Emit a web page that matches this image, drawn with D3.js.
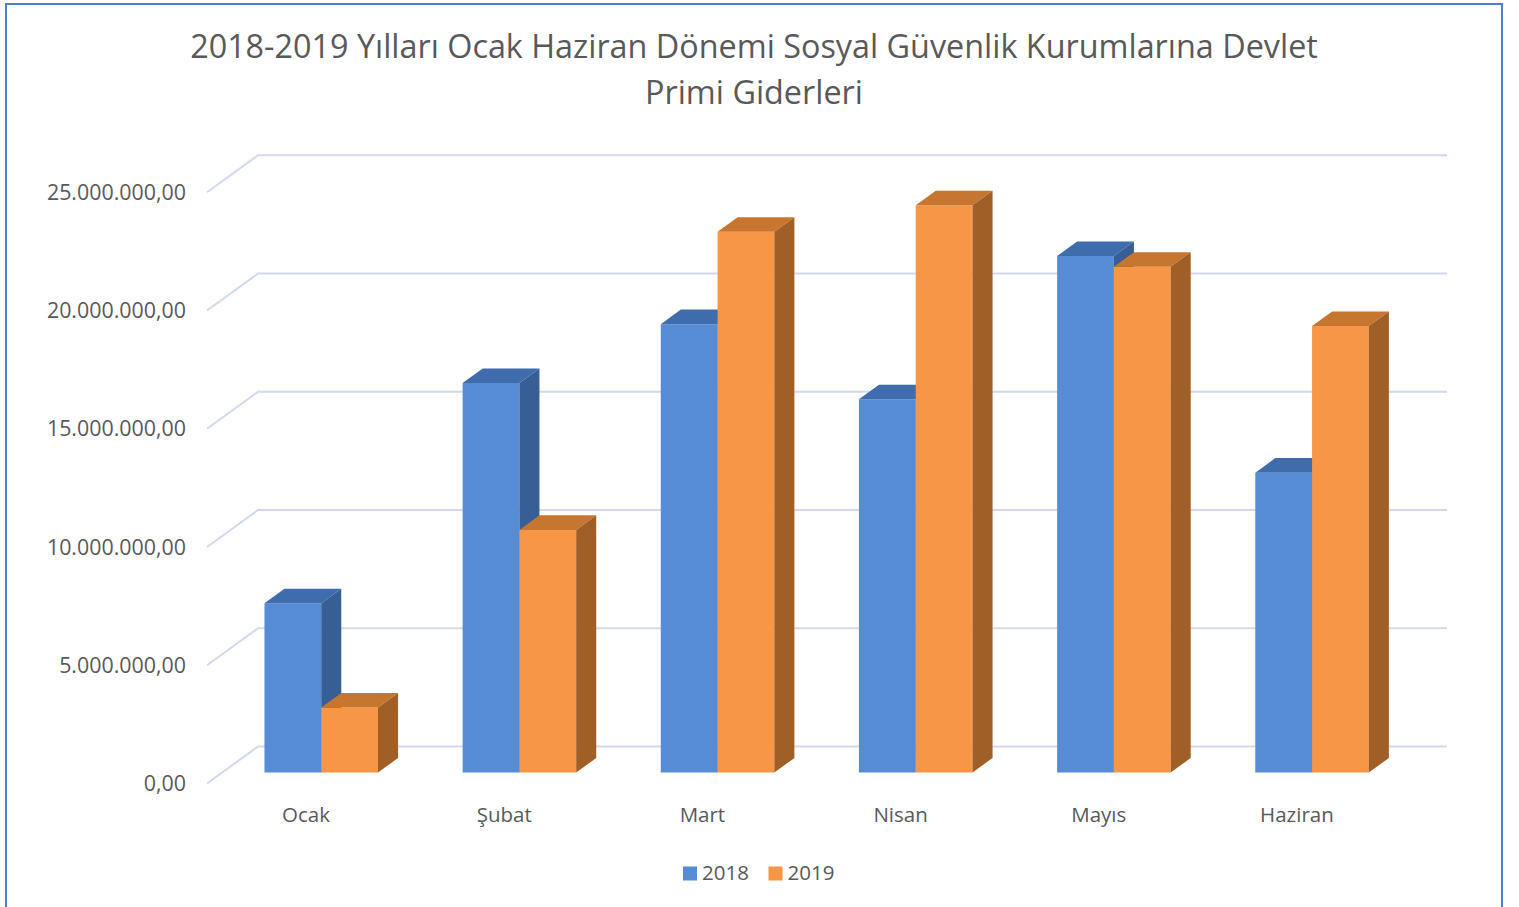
<!DOCTYPE html>
<html>
<head>
<meta charset="utf-8">
<script src="https://cdn.jsdelivr.net/npm/d3@7"></script>
<style>
body { margin: 0; background: #fff; }
text { font-family: "Open Sans", sans-serif; fill: #595959; }
</style>
</head>
<body>
<script>
// chart data
const months = ["Ocak", "Şubat", "Mart", "Nisan", "Mayıs", "Haziran"];
const seriesNames = ["2018", "2019"];
const values2018 = [7160000, 16470000, 18960000, 15780000, 21840000, 12680000];
const values2019 = [2750000, 10260000, 22870000, 23990000, 21390000, 18880000];
const yTicks = [0, 5000000, 10000000, 15000000, 20000000, 25000000];
const titleLines = ["2018-2019 Yılları Ocak Haziran Dönemi Sosyal Güvenlik Kurumlarına Devlet", "Primi Giderleri"];

var width = 1519, height = 907;

// 3d look: depth vector of the whole plot, bars sit between F1 and F2
var DX = 51, DY = -37;
var F1 = 0.297, F2 = 0.69;

var colors = {
    "2018": {front: "#568CD5", top: "#3E6CAC", side: "#375E95"},
    "2019": {front: "#F79646", top: "#C6762F", side: "#A05F27"}
};

var trLocale = d3.formatLocale({decimal: ",", thousands: ".", grouping: [3], currency: ["", " ₺"]});
var fmt = trLocale.format(",.2f");

var svg = d3.select("body").append("svg")
    .attr("width", width)
    .attr("height", height);

svg.append("rect").attr("width", width).attr("height", height).attr("fill", "#fff");
// frame
svg.append("rect")
    .attr("x", 6).attr("y", 4)
    .attr("width", 1496).attr("height", 920)
    .attr("fill", "none")
    .attr("stroke", "#4D80C8")
    .attr("stroke-width", 2);

// title
var title = svg.append("g");
titleLines.forEach(function(t, i) {
    title.append("text")
        .attr("x", 754)
        .attr("y", 58 + i * 46)
        .attr("text-anchor", "middle")
        .attr("font-size", 32)
        .text(t);
});
// fit the first line to the width seen in the picture
var w0 = title.select("text").node().getComputedTextLength();
var titleSize = 32 * 1128 / w0;
title.selectAll("text").attr("font-size", titleSize);

// scales (front plane)
var x = d3.scaleBand()
    .domain(months)
    .range([207, 1396])
    .paddingInner(0.427)
    .paddingOuter(0.2135);

var xs = d3.scaleBand()
    .domain(seriesNames)
    .range([0, x.bandwidth()]);

var y = d3.scaleLinear()
    .domain([0, 25000000])
    .range([783.5, 192.3]);

function proj(px, py, d) {
    return [px + DX * d, py + DY * d];
}

// gridlines: left wall diagonal + back wall line
var grid = svg.append("g");
grid.selectAll("path.grid")
    .data(yTicks)
    .enter()
    .append("path")
    .attr("class", "grid")
    .attr("fill", "none")
    .attr("stroke", "#D2D9EF")
    .attr("stroke-width", 2)
    .attr("d", function(t) {
        var a = proj(x.range()[0], y(t), 0);
        var b = proj(x.range()[0], y(t), 1);
        var c = proj(x.range()[1], y(t), 1);
        return d3.line()([a, b, c]);
    });

// y labels
svg.selectAll("text.ylab")
    .data(yTicks)
    .enter()
    .append("text")
    .attr("class", "ylab")
    .attr("x", 186)
    .attr("y", function(t) { return y(t); })
    .attr("dy", "0.35em")
    .attr("text-anchor", "end")
    .attr("font-size", 21.4)
    .text(function(t) { return fmt(t); });

// bars
var rows = [];
months.forEach(function(m, i) {
    rows.push({month: m, series: "2018", value: values2018[i]});
    rows.push({month: m, series: "2019", value: values2019[i]});
});

function poly(pts) { return d3.line()(pts) + "Z"; }

var bars = svg.append("g").selectAll("g.bar")
    .data(rows)
    .enter()
    .append("g")
    .attr("class", "bar");

bars.each(function(d) {
    var g = d3.select(this);
    var x0 = x(d.month) + xs(d.series);
    var x1 = x0 + xs.bandwidth();
    var yt = y(d.value), yb = y(0);
    var c = colors[d.series];
    // front face
    g.append("path")
        .attr("fill", c.front)
        .attr("d", poly([proj(x0, yt, F1), proj(x1, yt, F1), proj(x1, yb, F1), proj(x0, yb, F1)]));
    // top face
    g.append("path")
        .attr("fill", c.top)
        .attr("d", poly([proj(x0, yt, F1), proj(x1, yt, F1), proj(x1, yt, F2), proj(x0, yt, F2)]));
    // right side
    g.append("path")
        .attr("fill", c.side)
        .attr("d", poly([proj(x1, yt, F1), proj(x1, yt, F2), proj(x1, yb, F2), proj(x1, yb, F1)]));
});

// category labels
svg.selectAll("text.xlab")
    .data(months)
    .enter()
    .append("text")
    .attr("class", "xlab")
    .attr("x", function(m) { return x(m) + x.bandwidth() / 2; })
    .attr("y", 822)
    .attr("text-anchor", "middle")
    .attr("font-size", 20.5)
    .text(function(m) { return m; });

// legend
var legend = svg.append("g").selectAll("g.leg")
    .data(seriesNames)
    .enter()
    .append("g")
    .attr("class", "leg")
    .attr("transform", function(d, i) { return "translate(" + (683 + i * 85.5) + ",0)"; });

legend.append("rect")
    .attr("x", 0).attr("y", 866.5)
    .attr("width", 14).attr("height", 14)
    .attr("fill", function(d) { return colors[d].front; });

legend.append("text")
    .attr("x", 19)
    .attr("y", 880)
    .attr("font-size", 20.5)
    .text(function(d) { return d; });
</script>
</body>
</html>
